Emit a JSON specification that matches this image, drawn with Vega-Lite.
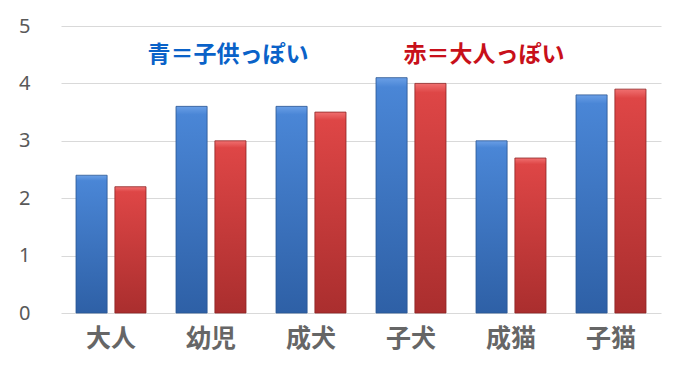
{
  "$schema": "https://vega.github.io/schema/vega-lite/v6.json",
  "autosize": {"type": "none"},
  "width": 600,
  "height": 287,
  "padding": {"left": 61, "top": 26, "right": 17, "bottom": 57},
  "background": "white",
  "config": {"view": {"stroke": null}},
  "datasets": {
    "bars": [
      {"category": "大人", "series": "青", "value": 2.4},
      {"category": "大人", "series": "赤", "value": 2.2},
      {"category": "幼児", "series": "青", "value": 3.6},
      {"category": "幼児", "series": "赤", "value": 3.0},
      {"category": "成犬", "series": "青", "value": 3.6},
      {"category": "成犬", "series": "赤", "value": 3.5},
      {"category": "子犬", "series": "青", "value": 4.1},
      {"category": "子犬", "series": "赤", "value": 4.0},
      {"category": "成猫", "series": "青", "value": 3.0},
      {"category": "成猫", "series": "赤", "value": 2.7},
      {"category": "子猫", "series": "青", "value": 3.8},
      {"category": "子猫", "series": "赤", "value": 3.9}
    ],
    "notes": [
      {"category": "幼児", "value": 4.5, "label": "青＝子供っぽい", "series": "青"},
      {"category": "成猫", "value": 4.5, "label": "赤＝大人っぽい", "series": "赤"}
    ]
  },
  "encoding": {
    "x": {
      "field": "category",
      "type": "nominal",
      "sort": ["大人", "幼児", "成犬", "子犬", "成猫", "子猫"],
      "scale": {"paddingInner": 0.3, "paddingOuter": 0.15},
      "axis": {
        "title": null,
        "domain": false,
        "ticks": false,
        "labelAngle": 0,
        "labelFont": "Noto Sans CJK JP",
        "labelFontWeight": "bold",
        "labelFontSize": 25,
        "labelColor": "#666666",
        "labelPadding": 13
      }
    }
  },
  "layer": [
    {
      "data": {"name": "bars"},
      "transform": [{"filter": "datum.series === '青'"}],
      "mark": {
        "type": "bar",
        "stroke": "#2a5592",
        "strokeWidth": 0.8,
        "color": {
          "gradient": "linear", "x1": 0, "y1": 0, "x2": 0, "y2": 1,
          "stops": [
            {"offset": 0, "color": "#6a9fe6"},
            {"offset": 0.04, "color": "#4a86d6"},
            {"offset": 1, "color": "#2e60a6"}
          ]
        }
      },
      "encoding": {
        "xOffset": {"field": "series", "type": "nominal", "sort": ["青", "赤"], "scale": {"domain": ["青", "赤"], "paddingInner": 0.2}},
        "y": {
          "field": "value",
          "type": "quantitative",
          "scale": {"domain": [0, 5]},
          "axis": {
            "title": null,
            "values": [0, 1, 2, 3, 4, 5],
            "format": "d",
            "domain": false,
            "ticks": false,
            "grid": true,
            "gridColor": "#d9d9d9",
            "gridWidth": 1,
            "labelFont": "Noto Sans",
            "labelFontSize": 20,
            "labelColor": "#595959",
            "labelPadding": 31
          }
        }
      }
    },
    {
      "data": {"name": "bars"},
      "transform": [{"filter": "datum.series === '赤'"}],
      "mark": {
        "type": "bar",
        "stroke": "#8e2424",
        "strokeWidth": 0.8,
        "color": {
          "gradient": "linear", "x1": 0, "y1": 0, "x2": 0, "y2": 1,
          "stops": [
            {"offset": 0, "color": "#f07070"},
            {"offset": 0.04, "color": "#de4646"},
            {"offset": 1, "color": "#aa2e2e"}
          ]
        }
      },
      "encoding": {
        "xOffset": {"field": "series", "type": "nominal", "sort": ["青", "赤"], "scale": {"domain": ["青", "赤"], "paddingInner": 0.2}},
        "y": {"field": "value", "type": "quantitative"}
      }
    },
    {
      "data": {"name": "notes"},
      "transform": [{"filter": "datum.series === '青'"}],
      "mark": {"type": "text", "font": "Noto Sans CJK JP", "fontWeight": "bold", "fontSize": 23, "color": "#0a62c8", "dx": 17},
      "encoding": {
        "y": {"field": "value", "type": "quantitative"},
        "text": {"field": "label"}
      }
    },
    {
      "data": {"name": "notes"},
      "transform": [{"filter": "datum.series === '赤'"}],
      "mark": {"type": "text", "font": "Noto Sans CJK JP", "fontWeight": "bold", "fontSize": 23, "color": "#c8101a", "dx": -27},
      "encoding": {
        "y": {"field": "value", "type": "quantitative"},
        "text": {"field": "label"}
      }
    }
  ]
}
